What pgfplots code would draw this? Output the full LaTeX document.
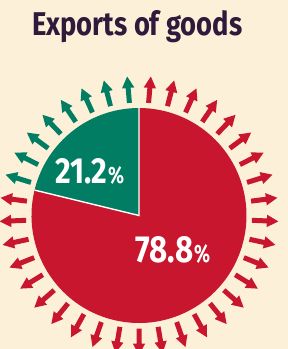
\documentclass[border=0pt]{standalone}
\usepackage{pgfplots}
\pgfplotsset{compat=1.18}
\usepackage{graphicx}
\usepackage{fontspec}
\setmainfont{Fira Sans}

\definecolor{bg}{RGB}{252,241,216}
\definecolor{pieRed}{RGB}{200,22,46}
\definecolor{pieGreen}{RGB}{0,125,98}
\definecolor{titleCol}{RGB}{48,26,60}

% data (percent shares)
\def\greenshare{21.2}
\def\redshare{78.8}
\pgfmathsetmacro{\gend}{90+\greenshare*3.6}
\pgfmathsetmacro{\rend}{\gend+\redshare*3.6}

\begin{document}
\begin{tikzpicture}
\begin{axis}[x=1pt,y=1pt,xmin=0,xmax=288,ymin=0,ymax=349,
  hide axis,clip=false,enlargelimits=false]
\fill[bg] (axis cs:0,0) rectangle (axis cs:288,349);
% arrows
\pgfplotsinvokeforeach{0,...,18,27,28,...,36}{
  \begin{scope}[shift={(axis cs:139,133.5)},rotate={270+#1*360/37},x=1pt,y=1pt]
  \fill[pieRed] (113,-2.5) -- (128,-2.5) -- (128,-6.2) -- (139.5,0) -- (128,6.2) -- (128,2.5) -- (113,2.5) -- cycle;
  \end{scope}
}
\pgfplotsinvokeforeach{19,...,26}{
  \begin{scope}[shift={(axis cs:139,133.5)},rotate={270+#1*360/37},x=1pt,y=1pt]
  \fill[pieGreen] (113,-2.5) -- (128,-2.5) -- (128,-6.2) -- (139.5,0) -- (128,6.2) -- (128,2.5) -- (113,2.5) -- cycle;
  \end{scope}
}
% pie
\fill[pieGreen] (axis cs:139,133.5) -- ++(90:107.5pt) arc[start angle=90,end angle=\gend,radius=107.5pt] -- cycle;
\fill[pieRed] (axis cs:139,133.5) -- ++(\gend:107.5pt) arc[start angle=\gend,end angle=\rend,radius=107.5pt] -- cycle;
\draw[white,line width=1.4pt] (axis cs:139,133.5) ++(90:107.5pt) -- (axis cs:139,133.5) -- ++(\gend:107.5pt);
% texts
\node[anchor=base west,inner sep=0,text=titleCol] at (axis cs:32,314) {\resizebox{210pt}{25pt}{\bfseries Exports of goods}};
\node[anchor=base west,inner sep=0,text=white] at (axis cs:55,166) {\resizebox{52pt}{25pt}{\bfseries 21.2}};
\node[anchor=base west,inner sep=0,text=white] at (axis cs:108,166) {\resizebox{16pt}{17pt}{\bfseries\%}};
\node[anchor=base west,inner sep=0,text=white] at (axis cs:135,87) {\resizebox{58pt}{26pt}{\bfseries 78.8}};
\node[anchor=base west,inner sep=0,text=white] at (axis cs:194,87) {\resizebox{16pt}{18pt}{\bfseries\%}};
\end{axis}
\pgfresetboundingbox
\path[use as bounding box] (current axis.south west) rectangle (current axis.north east);
\end{tikzpicture}
\end{document}
